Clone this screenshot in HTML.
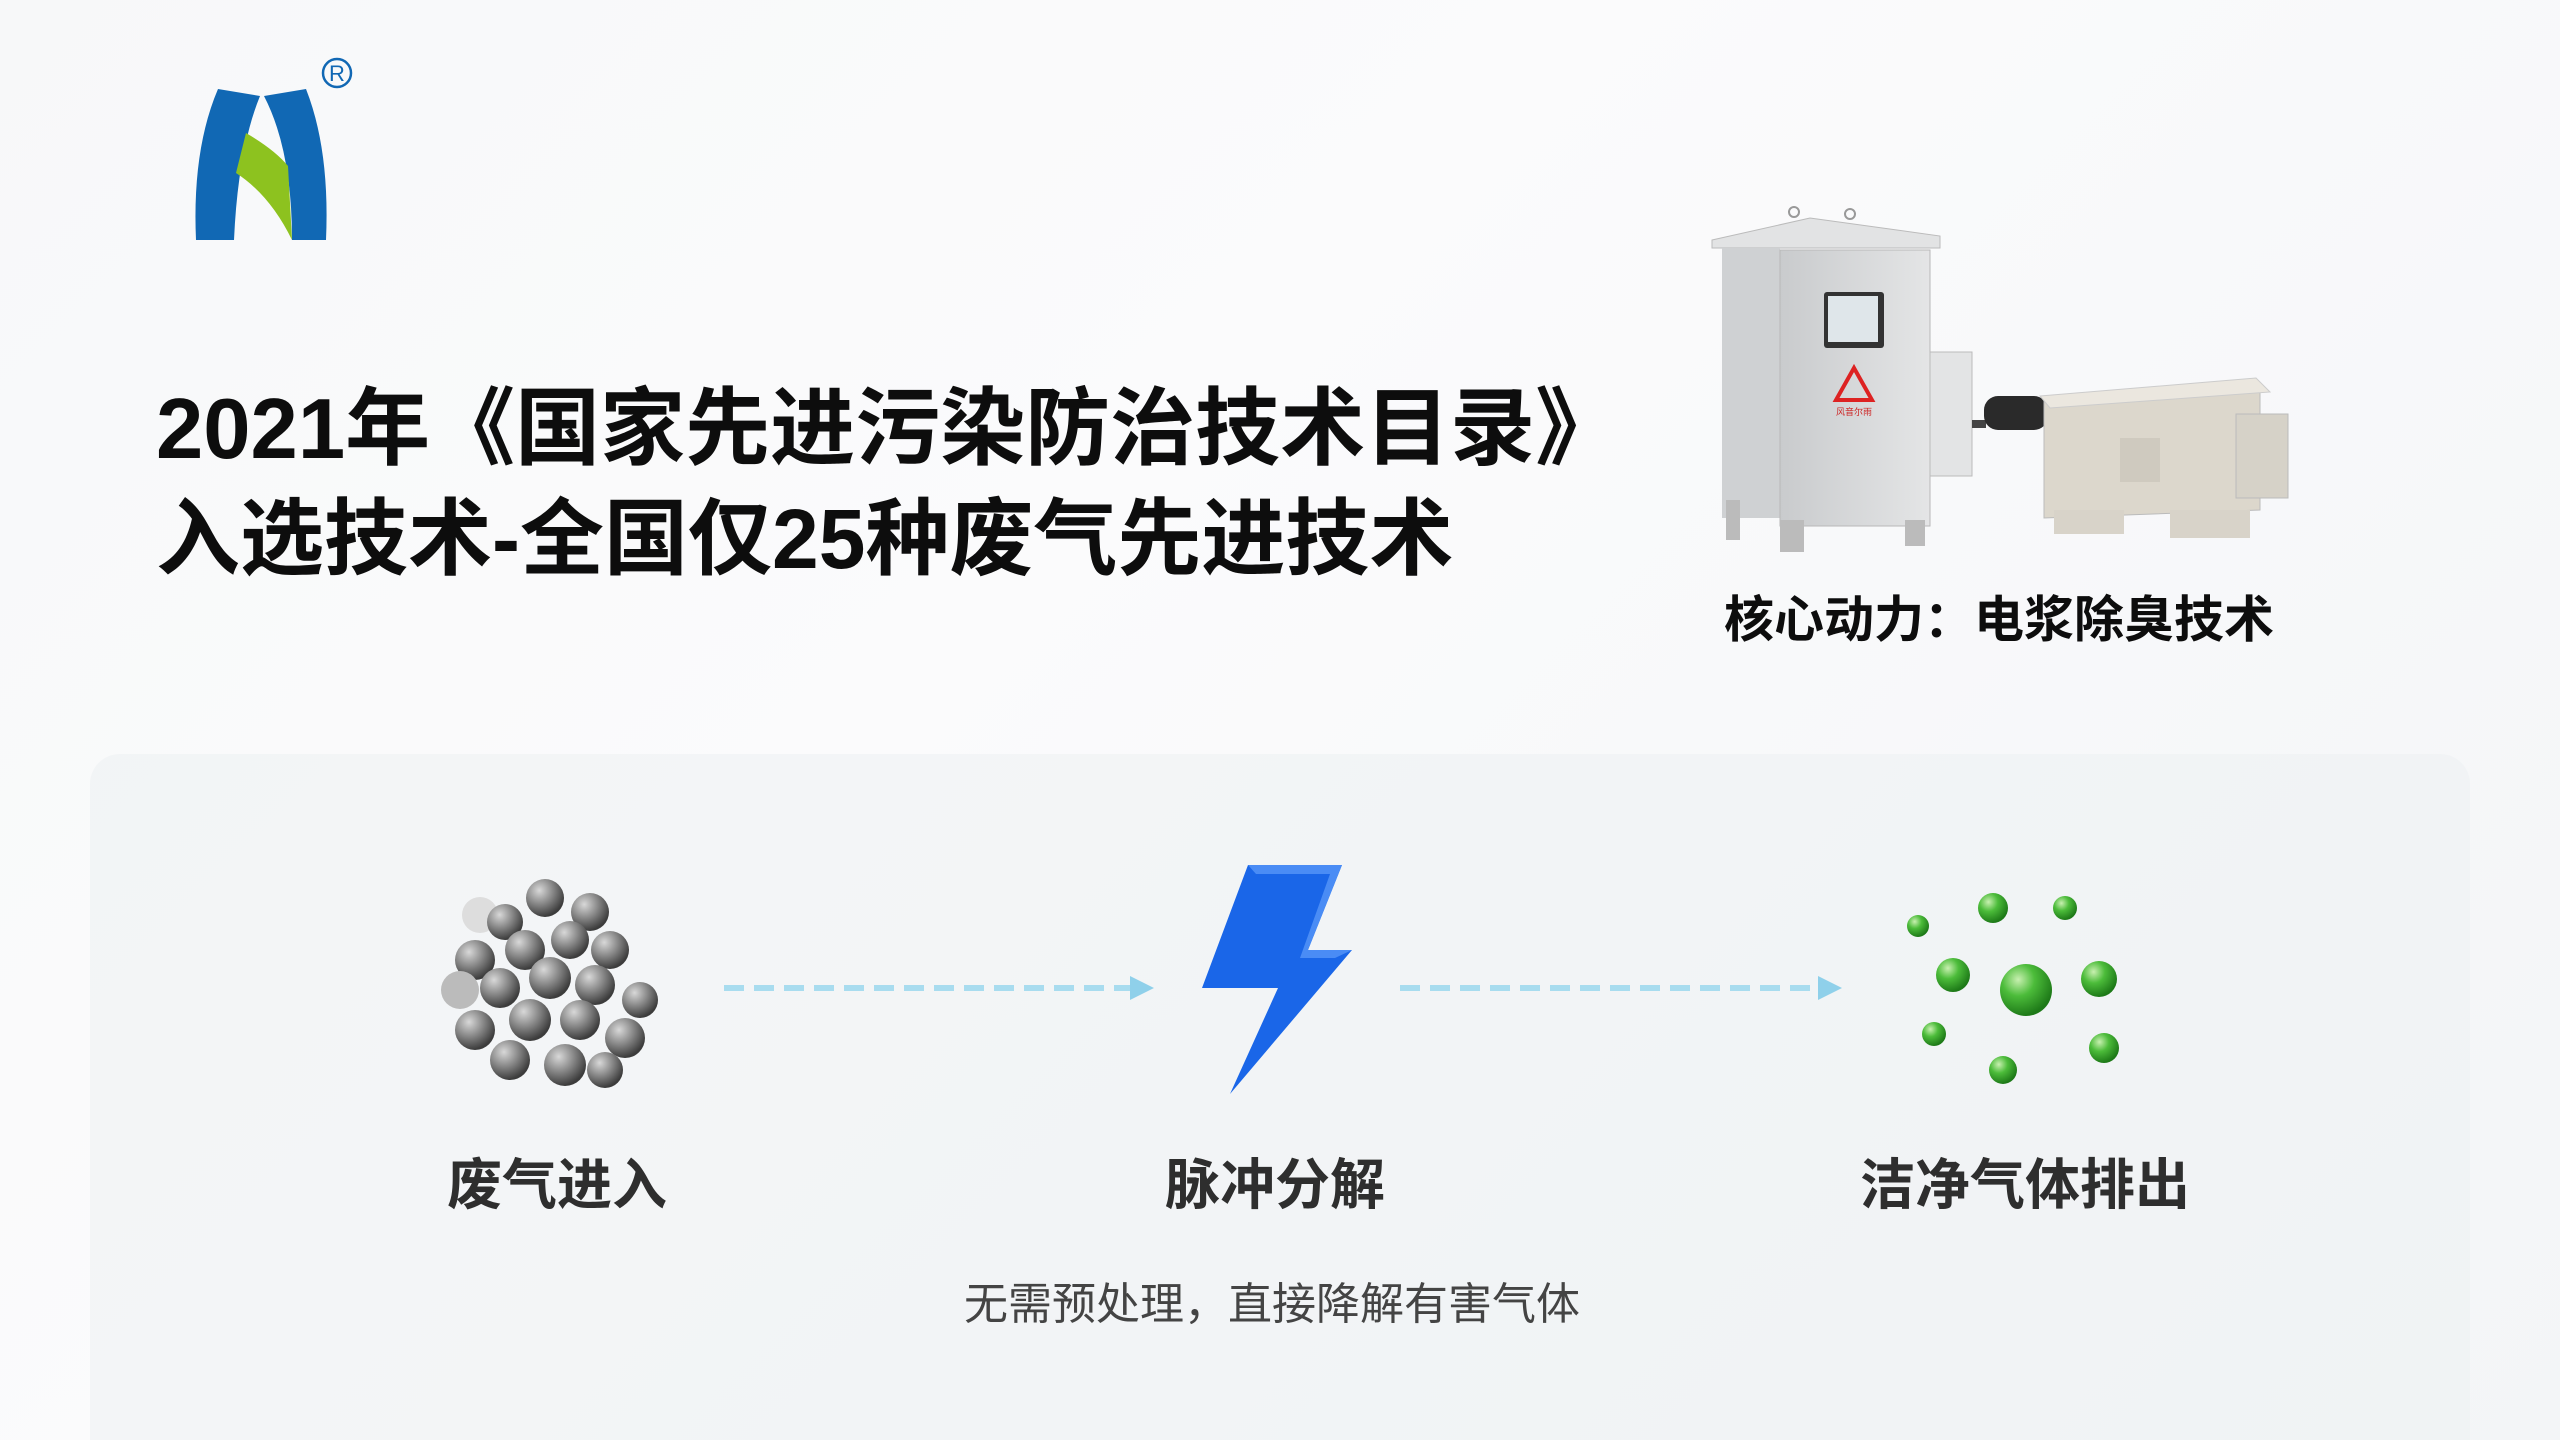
<!DOCTYPE html>
<html><head><meta charset="utf-8"><style>
html,body{margin:0;padding:0;overflow:hidden}
body{width:2560px;height:1440px;position:relative;overflow:hidden;background:linear-gradient(135deg,#f7f8f9 0%,#fbfbfc 40%,#f3f5f7 100%);font-family:"Liberation Sans","Noto Sans CJK SC",sans-serif}
.t{position:absolute;white-space:nowrap;font-weight:bold;color:#0d0d0d}
.panel{position:absolute;left:90px;top:754px;width:2380px;height:686px;border-radius:30px 30px 0 0;background:rgba(236,240,243,0.55)}
.lab{position:absolute;font-size:55px;font-weight:bold;color:#2e2e2e;transform:translateX(-50%);white-space:nowrap}
</style></head><body>
<div class="panel"></div>
<svg style="position:absolute;left:150px;top:40px" width="240" height="220" viewBox="0 0 240 220">
<path d="M68 49 L110 56 Q88 110 84 200 L46 200 Q42 110 68 49Z" fill="#1168b4"/>
<path d="M114 56 L156 49 Q180 110 176 200 L142 200 Q142 110 114 56Z" fill="#1168b4"/>
<path d="M96 93 Q125 110 138 126 L142 200 Q120 155 86 133Z" fill="#8dc21f"/>
<circle cx="187" cy="33" r="14" fill="none" stroke="#1168b4" stroke-width="2.5"/>
<text x="187" y="41" font-size="22" text-anchor="middle" fill="#1168b4" font-family="Liberation Sans">R</text>
</svg>
<div class="t" style="left:156px;top:360px;font-size:85px;letter-spacing:0px">2021年《国家先进污染防治技术目录》</div>
<div class="t" style="left:156px;top:472px;font-size:84px;letter-spacing:0px">入选技术-全国仅25种废气先进技术</div>
<svg style="position:absolute;left:1700px;top:200px" width="600" height="360" viewBox="0 0 600 360">
<defs><linearGradient id="cab" x1="0" x2="1"><stop offset="0" stop-color="#c9cbcd"/><stop offset="1" stop-color="#e4e5e6"/></linearGradient></defs>
<path d="M12 40 L110 18 L240 36 L240 48 L12 48Z" fill="#e2e3e4" stroke="#bbb"/>
<circle cx="94" cy="12" r="5" fill="none" stroke="#999" stroke-width="2"/><circle cx="150" cy="14" r="5" fill="none" stroke="#999" stroke-width="2"/>
<rect x="22" y="48" width="58" height="270" fill="#cfd1d3"/>
<rect x="80" y="50" width="150" height="276" fill="url(#cab)" stroke="#b8b8b8"/>
<rect x="26" y="300" width="14" height="40" fill="#bbb"/><rect x="80" y="320" width="24" height="32" fill="#bbb"/><rect x="205" y="320" width="20" height="26" fill="#bbb"/>
<rect x="124" y="92" width="60" height="56" rx="3" fill="#333"/><rect x="128" y="96" width="50" height="46" fill="#dfe6ea"/>
<path d="M154 168 L172 200 L136 200Z" fill="none" stroke="#d22" stroke-width="4"/>
<text x="154" y="215" font-size="9" fill="#c22" text-anchor="middle" font-family="Noto Sans CJK SC">风音尔雨</text>
<rect x="230" y="152" width="42" height="124" fill="#e3e4e5" stroke="#bbb"/>
<rect x="272" y="220" width="14" height="8" fill="#444"/>
<rect x="284" y="196" width="64" height="34" rx="14" fill="#2a2a2a"/>
<path d="M344 196 L560 186 L560 310 L344 318Z" fill="#dcd7cc" stroke="#bbb"/>
<path d="M340 196 L556 178 L570 192 L350 208Z" fill="#ebe7df" stroke="#ccc"/>
<rect x="536" y="214" width="52" height="84" fill="#d6d2c8" stroke="#bbb"/>
<rect x="420" y="238" width="40" height="44" fill="#cfcabf"/>
<rect x="354" y="310" width="70" height="24" fill="#d8d3c9"/><rect x="470" y="310" width="80" height="28" fill="#d8d3c9"/>
</svg>
<div class="t" style="left:1724px;top:580px;font-size:50px">核心动力：电浆除臭技术</div>
<svg style="position:absolute;left:430px;top:870px" width="250" height="240" viewBox="0 0 250 240">
<defs><radialGradient id="g" cx="0.35" cy="0.3" r="0.7"><stop offset="0" stop-color="#d8d8d8"/><stop offset="0.5" stop-color="#8a8a8a"/><stop offset="1" stop-color="#3c3c3c"/></radialGradient>
<radialGradient id="gr" cx="0.35" cy="0.3" r="0.7"><stop offset="0" stop-color="#c8f0b0"/><stop offset="0.45" stop-color="#4cbc3a"/><stop offset="1" stop-color="#1e7a18"/></radialGradient></defs>
<g fill="url(#g)">
<circle cx="50" cy="45" r="18" fill="#ddd"/><circle cx="115" cy="28" r="19"/><circle cx="160" cy="42" r="19"/><circle cx="75" cy="52" r="18"/><circle cx="140" cy="70" r="19"/>
<circle cx="45" cy="90" r="20"/><circle cx="95" cy="80" r="20"/><circle cx="180" cy="80" r="19"/><circle cx="30" cy="120" r="19" fill="#bbb"/><circle cx="120" cy="108" r="21"/>
<circle cx="165" cy="115" r="20"/><circle cx="70" cy="118" r="20"/><circle cx="210" cy="130" r="18"/><circle cx="45" cy="160" r="20"/><circle cx="100" cy="150" r="21"/>
<circle cx="150" cy="150" r="20"/><circle cx="195" cy="168" r="20"/><circle cx="80" cy="190" r="20"/><circle cx="135" cy="195" r="21"/><circle cx="175" cy="200" r="18"/>
</g></svg>
<svg style="position:absolute;left:720px;top:970px" width="1140" height="40">
<line x1="4" y1="18" x2="416" y2="18" stroke="#a8dcef" stroke-width="6" stroke-dasharray="20 10"/>
<path d="M410 6 L434 18 L410 30Z" fill="#8fd0ea"/>
<line x1="680" y1="18" x2="1100" y2="18" stroke="#a8dcef" stroke-width="6" stroke-dasharray="20 10"/>
<path d="M1098 6 L1122 18 L1098 30Z" fill="#8fd0ea"/>
</svg>
<svg style="position:absolute;left:1190px;top:860px" width="180" height="240" viewBox="0 0 180 240">
<path d="M58 5 L152 5 L118 90 L162 90 L40 234 L88 128 L12 128Z" fill="#1a66e8"/>
<path d="M58 5 L152 5 L118 90 L162 90 L145 98 L110 98 L140 14 L66 14Z" fill="#4a8cf5"/>
</svg>
<svg style="position:absolute;left:1890px;top:880px" width="260" height="220" viewBox="0 0 260 220">
<g fill="url(#gr)">
<circle cx="28" cy="46" r="11"/><circle cx="103" cy="28" r="15"/><circle cx="175" cy="28" r="12"/><circle cx="63" cy="95" r="17"/>
<circle cx="136" cy="110" r="26"/><circle cx="209" cy="99" r="18"/><circle cx="44" cy="154" r="12"/><circle cx="214" cy="168" r="15"/><circle cx="113" cy="190" r="14"/>
</g></svg>
<div class="lab" style="left:557px;top:1140px">废气进入</div>
<div class="lab" style="left:1275px;top:1140px">脉冲分解</div>
<div class="lab" style="left:2025px;top:1140px">洁净气体排出</div>
<div class="lab" style="left:1272px;top:1268px;font-size:44px;font-weight:normal;color:#444">无需预处理，直接降解有害气体</div>
</body></html>
